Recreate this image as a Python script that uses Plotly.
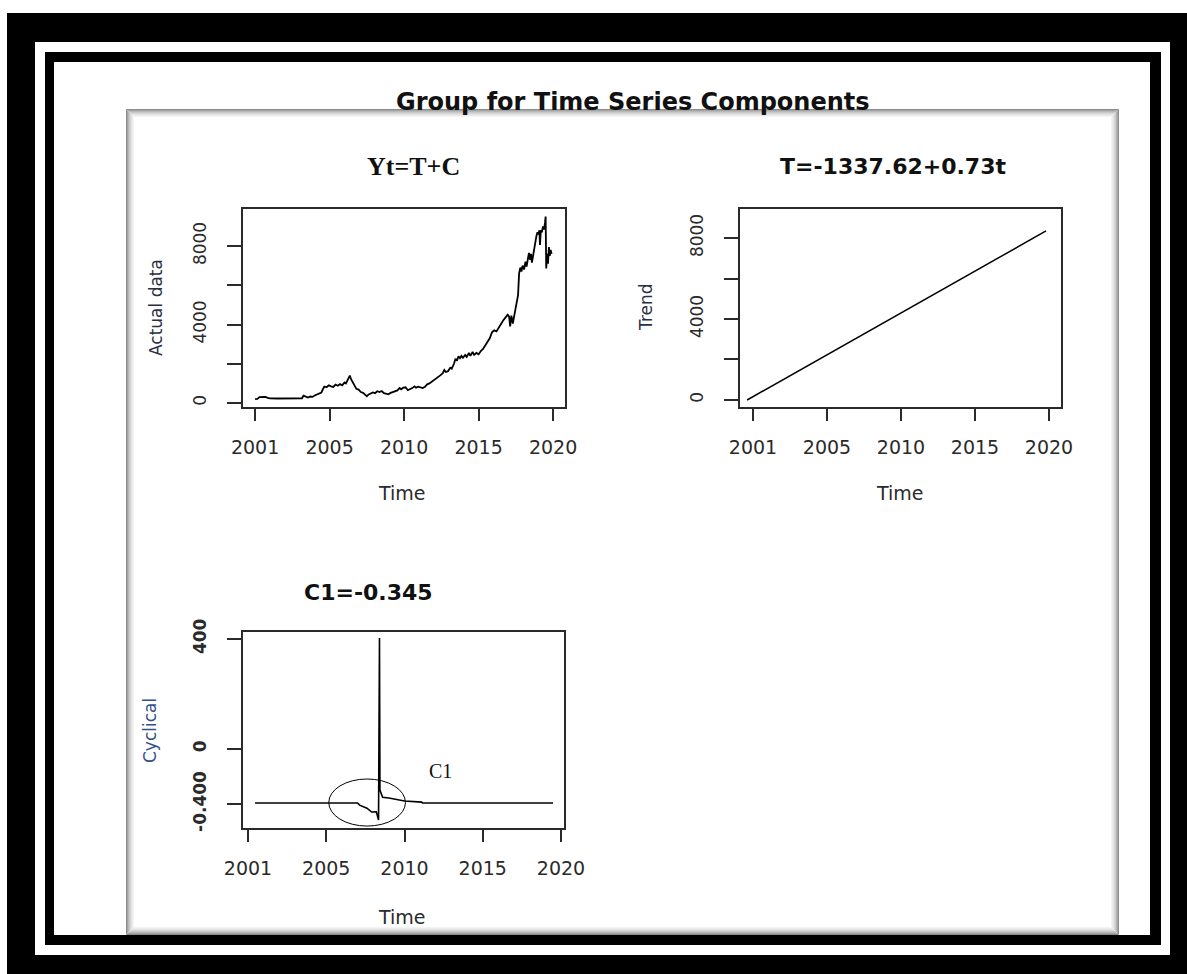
import plotly.graph_objects as go

# ---------------- data ----------------
actual_time = [2000.00, 2000.15, 2000.30, 2000.50, 2000.70, 2000.85, 2001.00, 2001.50, 2002.00, 2002.50,
               2003.00, 2003.15, 2003.25, 2003.40, 2003.55, 2003.70, 2003.85, 2004.00, 2004.15, 2004.30,
               2004.45, 2004.55, 2004.65, 2004.80, 2004.95, 2005.10, 2005.25, 2005.40, 2005.55, 2005.70,
               2005.85, 2006.00, 2006.10, 2006.20, 2006.30, 2006.36, 2006.45, 2006.55, 2006.65, 2006.80,
               2006.95, 2007.10, 2007.25, 2007.40, 2007.50, 2007.60, 2007.75, 2007.90, 2008.05, 2008.20,
               2008.35, 2008.50, 2008.65, 2008.80, 2008.95, 2009.10, 2009.25, 2009.40, 2009.55, 2009.70,
               2009.80, 2009.95, 2010.10, 2010.25, 2010.40, 2010.55, 2010.70, 2010.80, 2010.95, 2011.10,
               2011.25, 2011.40, 2011.55, 2011.70, 2011.85, 2012.00, 2012.15, 2012.30, 2012.45, 2012.60,
               2012.70, 2012.80, 2012.95, 2013.10, 2013.20, 2013.35, 2013.45, 2013.55, 2013.65, 2013.75,
               2013.85, 2013.95, 2014.10, 2014.20, 2014.35, 2014.45, 2014.60, 2014.70, 2014.85, 2015.00,
               2015.15, 2015.30, 2015.45, 2015.60, 2015.75, 2015.90, 2016.05, 2016.20, 2016.35, 2016.50,
               2016.65, 2016.80, 2016.95, 2017.05, 2017.12, 2017.20, 2017.30, 2017.40, 2017.50, 2017.58,
               2017.65, 2017.72, 2017.80, 2017.88, 2017.95, 2018.05, 2018.15, 2018.22, 2018.30, 2018.38,
               2018.45, 2018.52, 2018.58, 2018.65, 2018.72, 2018.80, 2018.88, 2018.95, 2019.02, 2019.08,
               2019.12, 2019.18, 2019.25, 2019.32, 2019.40, 2019.46, 2019.50, 2019.54, 2019.60, 2019.66,
               2019.72, 2019.78, 2019.84, 2019.90]
actual_values = [200, 210, 300, 320, 310, 260, 240, 230, 230, 230,
                 230, 240, 370, 320, 280, 330, 310, 380, 420, 480,
                 530, 700, 840, 800, 900, 850, 820, 940, 880, 960,
                 900, 1050, 1000, 1150, 1300, 1400, 1200, 1080, 900, 720,
                 680, 560, 520, 380, 340, 420, 460, 540, 500, 600,
                 560, 610, 500, 470, 440, 520, 560, 600, 640, 760,
                 700, 780, 800, 650, 700, 760, 850, 780, 830, 800,
                 760, 820, 950, 1000, 1080, 1150, 1230, 1300, 1420, 1520,
                 1680, 1580, 1620, 1800, 1750, 2000, 2250, 2150, 2380, 2280,
                 2400, 2300, 2450, 2350, 2550, 2400, 2600, 2450, 2550, 2480,
                 2650, 2750, 2950, 3150, 3300, 3600, 3700, 3650, 3850, 4000,
                 4200, 4350, 4500, 4400, 3900, 4450, 4050, 4480, 4900, 5300,
                 5500, 6600, 6900, 6700, 7000, 6800, 7200, 6950, 7400, 7650,
                 7300, 7600, 7150, 7500, 7900, 8200, 8500, 8700, 8600, 8800,
                 8050, 8800, 8700, 9000, 8850, 9200, 9500, 6850, 7600, 7100,
                 7950, 7500, 7800, 7600]

trend_time = [1999.6, 2019.8]
trend_values = [0, 8350]

cyc_time = [2000.45, 2007.00, 2007.13, 2007.60, 2007.90, 2008.20, 2008.34, 2008.36, 2008.38,
            2008.40, 2008.43, 2008.60, 2009.00, 2009.30, 2009.50, 2010.00, 2011.10, 2011.15, 2019.49]
cyc_values = [-196, -196, -204, -215, -229, -228, -258, 69, -150,
              403, -149, -175, -178, -182, -185, -189, -193, -196, -196]

year_ticks = [2000, 2005, 2010, 2015, 2020]
year_labels = ["2001", "2005", "2010", "2015", "2020"]
big_ticks = [0, 2000, 4000, 6000, 8000]
big_labels = ["0", "", "4000", "", "8000"]
cyc_ticks = [-200, 0, 400]
cyc_labels = ["<b>-0.400</b>", "<b>0</b>", "<b>400</b>"]

main_title = "Group for Time Series Components"
titles = ["Yt=T+C", "T=-1337.62+0.73t", "C1=-0.345"]
ylabels = ["Actual data", "Trend", "Cyclical"]

# ---------------- layout helpers ----------------
W, H = 1187, 974
def fx(p):
    return p / W
def fy(p):
    return 1 - p / H

INK = "#2a2a2a"
TICKFONT = dict(family="DejaVu Sans", size=19, color=INK)
YTICKFONT = dict(family="DejaVu Sans", size=17, color=INK)

fig = go.Figure()
fig.add_trace(go.Scatter(x=actual_time, y=actual_values, mode="lines",
                         line=dict(color="black", width=1.8), xaxis="x", yaxis="y", showlegend=False))
fig.add_trace(go.Scatter(x=trend_time, y=trend_values, mode="lines",
                         line=dict(color="black", width=1.5), xaxis="x2", yaxis="y2", showlegend=False))
fig.add_trace(go.Scatter(x=cyc_time, y=cyc_values, mode="lines",
                         line=dict(color="black", width=1.6), xaxis="x3", yaxis="y3", showlegend=False))

def xax(dom, rng, anchor):
    return dict(domain=dom, range=rng, anchor=anchor, tickmode="array", tickvals=year_ticks,
                ticktext=year_labels, showline=True, mirror=True, linecolor=INK, linewidth=1.6,
                ticks="outside", ticklen=12, tickwidth=1.6, tickcolor=INK, showgrid=False,
                zeroline=False, tickfont=TICKFONT, ticklabelstandoff=10, fixedrange=True,
                automargin=False)

def yax(dom, rng, anchor, tv, tt):
    return dict(domain=dom, range=rng, anchor=anchor, tickmode="array", tickvals=tv, ticktext=tt,
                tickangle=-90, showline=True, mirror=True, linecolor=INK, linewidth=1.6,
                ticks="outside", ticklen=14, tickwidth=1.6, tickcolor=INK, showgrid=False,
                zeroline=False, tickfont=YTICKFONT, ticklabelstandoff=14, fixedrange=True,
                automargin=False)

fig.update_layout(
    width=W, height=H, margin=dict(l=0, r=0, t=0, b=0, pad=0, autoexpand=False),
    paper_bgcolor="white", plot_bgcolor="rgba(0,0,0,0)", showlegend=False,
    xaxis=xax([fx(243), fx(565)], [1999.19, 2020.8], "y"),
    yaxis=yax([fy(407), fy(209)], [-204, 9885], "x", big_ticks, big_labels),
    xaxis2=xax([fx(740), fx(1061)], [1999.12, 2020.81], "y2"),
    yaxis2=yax([fy(407), fy(209)], [-346, 9432], "x2", big_ticks, big_labels),
    xaxis3=xax([fx(243), fx(564)], [1999.68, 2020.19], "y3"),
    yaxis3=yax([fy(828), fy(632)], [-287, 425], "x3", cyc_ticks, cyc_labels),
)

# ---------------- frame decoration ----------------
shapes = []
def rect(x0, y0, x1, y1, fill=None, line=None, lw=0):
    d = dict(type="rect", xref="paper", yref="paper", x0=fx(x0), x1=fx(x1), y0=fy(y1), y1=fy(y0),
             layer="below", line=dict(width=lw, color=line or "rgba(0,0,0,0)"))
    if fill:
        d["fillcolor"] = fill
    shapes.append(d)

rect(7, 13, W, H, fill="black")
rect(35, 42, 1170, 955, fill="white")
rect(45, 52, 1161, 945, fill="black")
rect(54, 62, 1150, 935, fill="white")
rect(126, 109, 1119, 935, fill="white")
greys = ["#8c8c8c", "#a4a4a4", "#b8b8b8", "#c9c9c9", "#d7d7d7", "#e3e3e3", "#ececec", "#f4f4f4"]
for i, g in enumerate(greys):
    rect(126 + i + 0.5, 109 + i + 0.5, 1119 - i - 0.5, 935 - i - 0.5, line=g, lw=1)

# ellipse highlighting C1
shapes.append(dict(type="circle", xref="x3", yref="y3", x0=2005.16, x1=2010.06, y0=-280, y1=-109,
                   line=dict(color="black", width=1), layer="above"))
fig.update_layout(shapes=shapes)

# ---------------- text ----------------
ann = []
def text(t, x, y, size, family="DejaVu Sans", color="#111", angle=0):
    ann.append(dict(text=t, x=fx(x), y=fy(y), xref="paper", yref="paper", showarrow=False,
                    xanchor="center", yanchor="middle", textangle=angle,
                    font=dict(family=family, size=size, color=color)))

text("<b>" + main_title + "</b>", 633, 102, 24)
text("<b>" + titles[0] + "</b>", 413, 166, 26, family="Liberation Serif")
text("<b>" + titles[1] + "</b>", 893, 166, 22)
text("<b>" + titles[2] + "</b>", 368, 592, 22)
text("Time", 402, 493, 19, color=INK)
text("Time", 900, 493, 19, color=INK)
text("Time", 402, 917, 19, color=INK)
text(ylabels[0], 156, 308, 17, color="#2b2f45", angle=-90)
text(ylabels[1], 646, 307, 17, color="#2b2f45", angle=-90)
text(ylabels[2], 150, 730, 17, color="#34508a", angle=-90)
text("C1", 440, 771, 20, family="Liberation Serif", color="#111")
fig.update_layout(annotations=ann)

fig.write_html("out.html", config={"displayModeBar": False},
               post_script="document.body.style.margin='0';")
